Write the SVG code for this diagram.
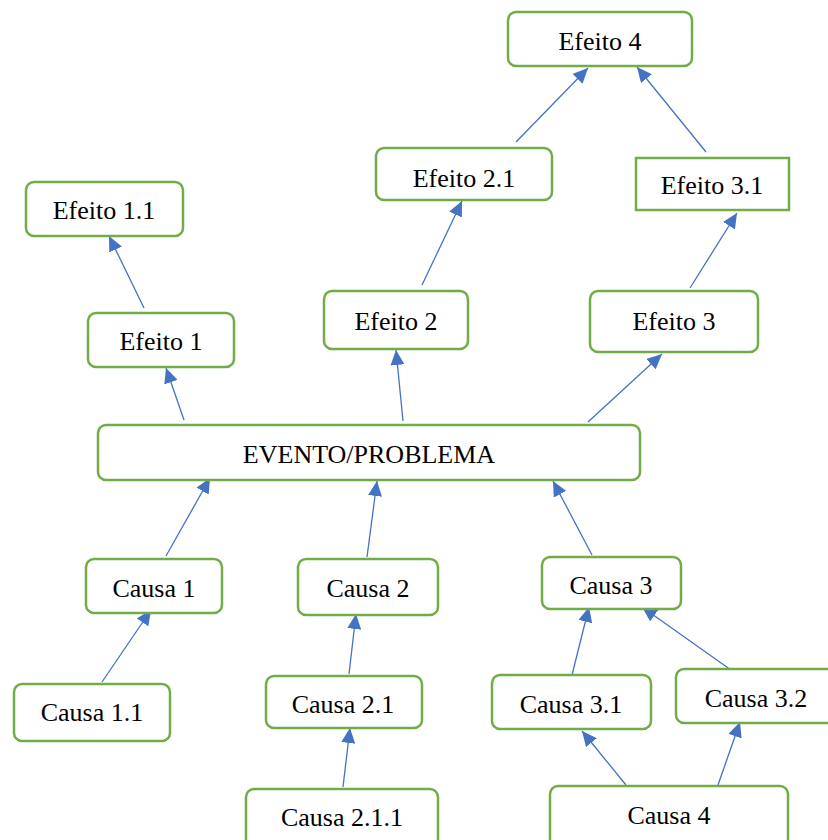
<svg xmlns="http://www.w3.org/2000/svg" width="828" height="840" viewBox="0 0 828 840">
<style>
.box{fill:#fff;stroke:#70AD47;stroke-width:2.5}
.lbl{font-family:"Liberation Serif","Times New Roman",serif;font-size:26px;fill:#000;text-anchor:middle;dominant-baseline:central}
.con{stroke:#4472C4;stroke-width:1.3;fill:none;marker-end:url(#ah)}
</style>
<defs>
<marker id="ah" markerUnits="userSpaceOnUse" markerWidth="16" markerHeight="14" refX="15" refY="7" orient="auto">
<path d="M0,0 L15,7 L0,14 Z" fill="#4472C4"/>
</marker>
</defs>
<rect width="828" height="840" fill="#fff"/>
<g id="connectors">
<line class="con" x1="516" y1="142" x2="588" y2="68"/>
<line class="con" x1="706" y1="152" x2="637" y2="67"/>
<line class="con" x1="422" y1="285" x2="462" y2="201"/>
<line class="con" x1="690" y1="288" x2="737" y2="213"/>
<line class="con" x1="144" y1="308" x2="109" y2="236"/>
<line class="con" x1="184" y1="420" x2="166" y2="368"/>
<line class="con" x1="403" y1="421" x2="396" y2="350"/>
<line class="con" x1="588" y1="422" x2="662" y2="354"/>
<line class="con" x1="166" y1="556" x2="210" y2="478"/>
<line class="con" x1="367" y1="557" x2="377" y2="481"/>
<line class="con" x1="592" y1="555" x2="553" y2="481"/>
<line class="con" x1="102" y1="682" x2="151" y2="610"/>
<line class="con" x1="349" y1="674" x2="356" y2="614"/>
<line class="con" x1="343" y1="787" x2="350" y2="728"/>
<line class="con" x1="572" y1="675" x2="589" y2="607"/>
<line class="con" x1="731" y1="670" x2="642" y2="607"/>
<line class="con" x1="626" y1="785" x2="582" y2="731"/>
<line class="con" x1="718" y1="785" x2="740" y2="722"/>
</g>
<g id="efeito4"><rect class="box" x="508" y="12" width="184" height="54" rx="8"/><text class="lbl" x="600" y="41">Efeito 4</text></g>
<g id="efeito21"><rect class="box" x="376" y="148" width="176" height="52" rx="8"/><text class="lbl" x="464" y="178">Efeito 2.1</text></g>
<g id="efeito31"><rect class="box" x="636" y="158" width="153" height="52"/><text class="lbl" x="712" y="185">Efeito 3.1</text></g>
<g id="efeito11"><rect class="box" x="26" y="182" width="157" height="54" rx="8"/><text class="lbl" x="104" y="210">Efeito 1.1</text></g>
<g id="efeito1"><rect class="box" x="88" y="313" width="146" height="54" rx="8"/><text class="lbl" x="161" y="341">Efeito 1</text></g>
<g id="efeito2"><rect class="box" x="324" y="291" width="144" height="58" rx="8"/><text class="lbl" x="396" y="321">Efeito 2</text></g>
<g id="efeito3"><rect class="box" x="590" y="291" width="168" height="61" rx="8"/><text class="lbl" x="674" y="321">Efeito 3</text></g>
<g id="evento"><rect class="box" x="98" y="425" width="542" height="55" rx="8"/><text class="lbl" x="369" y="454">EVENTO/PROBLEMA</text></g>
<g id="causa1"><rect class="box" x="86" y="559" width="136" height="54" rx="8"/><text class="lbl" x="154" y="588">Causa 1</text></g>
<g id="causa2"><rect class="box" x="298" y="559" width="140" height="56" rx="8"/><text class="lbl" x="368" y="588">Causa 2</text></g>
<g id="causa3"><rect class="box" x="542" y="557" width="139" height="52" rx="8"/><text class="lbl" x="611" y="585">Causa 3</text></g>
<g id="causa11"><rect class="box" x="14" y="684" width="156" height="57" rx="8"/><text class="lbl" x="92" y="712">Causa 1.1</text></g>
<g id="causa21"><rect class="box" x="266" y="676" width="156" height="52" rx="8"/><text class="lbl" x="343" y="704">Causa 2.1</text></g>
<g id="causa31"><rect class="box" x="492" y="675" width="159" height="54" rx="8"/><text class="lbl" x="571" y="704">Causa 3.1</text></g>
<g id="causa32"><rect class="box" x="676" y="669" width="170" height="54" rx="8"/><text class="lbl" x="756" y="698">Causa 3.2</text></g>
<g id="causa211"><rect class="box" x="246" y="789" width="192" height="60" rx="8"/><text class="lbl" x="342" y="817">Causa 2.1.1</text></g>
<g id="causa4"><rect class="box" x="550" y="786" width="238" height="62" rx="8"/><text class="lbl" x="669" y="815">Causa 4</text></g>
</svg>
